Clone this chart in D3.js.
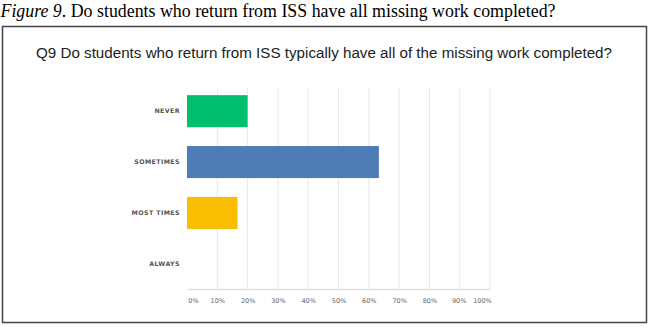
<!DOCTYPE html>
<html><head><meta charset="utf-8">
<script src="https://cdn.jsdelivr.net/npm/d3@7"></script>
<style>body{margin:0;background:#fff}svg{display:block}</style>
</head><body><svg id="c" width="651" height="327"></svg>
<script>
const categories = ["NEVER", "SOMETIMES", "MOST TIMES", "ALWAYS"];
const values = [20.0, 63.33, 16.67, 0];
const colors = ["#00BF6F", "#507CB6", "#F9BE00", "#6BC8CD"];
const tickValues = [0,10,20,30,40,50,60,70,80,90,100];
const figCaptionItalic = "Figure 9";
const figCaptionRest = ". Do students who return from ISS have all missing work completed?";
const chartTitle = "Q9 Do students who return from ISS typically have all of the missing work completed?";

const svg = d3.select("#c");
// caption
const cap = svg.append("text").attr("x", 0.5).attr("y", 17)
  .attr("font-family", "'Liberation Serif','Times New Roman',serif").attr("font-size", 18).attr("fill", "#000")
  .attr("textLength", 555).attr("lengthAdjust", "spacingAndGlyphs");
cap.append("tspan").attr("font-style", "italic").text(figCaptionItalic);
cap.append("tspan").text(figCaptionRest);

// box
svg.append("rect").attr("x", 2.5).attr("y", 26.5).attr("width", 644).attr("height", 296)
  .attr("fill", "#fff").attr("stroke", "#444").attr("stroke-width", 1.5);

svg.append("text").attr("x", 324).attr("y", 57.5).attr("text-anchor", "middle")
  .attr("font-family", "'Liberation Sans',Arial,sans-serif").attr("font-size", 14).attr("fill", "#222")
  .attr("textLength", 576).attr("lengthAdjust", "spacingAndGlyphs")
  .text(chartTitle);

const x = d3.scaleLinear().domain([0, 100]).range([187, 490]);
const y = d3.scaleBand().domain(categories).range([86, 289]).paddingInner(0.37).paddingOuter(0.18);

// gridlines
svg.append("g").selectAll("line").data(tickValues.slice(1)).join("line")
  .attr("x1", d => x(d)).attr("x2", d => x(d)).attr("y1", 88).attr("y2", 289)
  .attr("stroke", "#e8e8e8").attr("stroke-width", 1);

// bars
svg.append("g").selectAll("rect").data(categories).join("rect")
  .attr("x", x(0)).attr("y", d => y(d))
  .attr("width", (d, i) => x(values[i]) - x(0)).attr("height", y.bandwidth())
  .attr("fill", (d, i) => colors[i]);

// x axis
const xa = svg.append("g").attr("transform", "translate(0,289)")
  .call(d3.axisBottom(x).tickValues(tickValues).tickFormat(d => d + "%").tickSize(0).tickPadding(9));
xa.select(".domain").attr("stroke", "#e0e0e0").attr("stroke-width", 1.5);
xa.selectAll("text").attr("font-family", "'DejaVu Sans',sans-serif").attr("font-size", 6.5).attr("fill", "#666")
  .attr("dx", d => d === 0 ? 6 : (d === 100 ? -8 : (d === 90 ? -1 : 0)));

// y labels
svg.append("g").selectAll("text").data(categories).join("text")
  .attr("x", 180).attr("y", d => y(d) + y.bandwidth() / 2).attr("dy", "0.35em")
  .attr("text-anchor", "end").attr("font-family", "'DejaVu Sans',sans-serif")
  .attr("font-size", 6.3).attr("font-weight", "bold").attr("letter-spacing", 0.4).attr("fill", "#555")
  .text(d => d);
</script></body></html>
